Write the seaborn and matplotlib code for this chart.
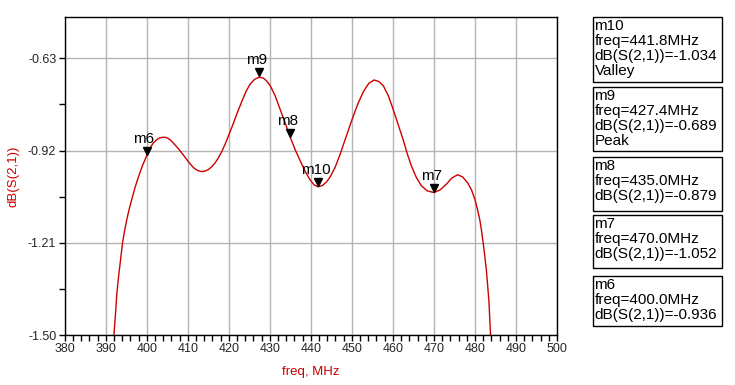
import numpy as np
import matplotlib
matplotlib.use("Agg")
import matplotlib.pyplot as plt
import matplotlib.transforms as mtransforms
from matplotlib.patches import Rectangle
import seaborn as sns

# curve (freq in MHz, dB(S(2,1)))
freq = [391.8, 392.0, 392.4, 392.7, 393.1, 393.5, 394.1, 394.6, 395.1, 395.7,
        396.3, 397.1, 398.0, 399.0, 400.0, 400.8, 401.6, 402.4, 403.2, 404.0,
        404.8, 405.7, 406.6, 407.7, 408.8, 409.8, 410.6, 411.4, 412.3, 413.2,
        414.1, 415.0, 415.9, 416.7, 417.5, 418.3, 419.2, 420.1, 421.1, 422.1,
        423.2, 424.2, 425.2, 426.3, 427.4, 428.4, 429.3, 430.1, 431.3, 432.5,
        433.8, 435.0, 436.2, 437.4, 438.6, 439.8, 440.8, 441.8, 442.8, 443.8,
        444.7, 445.9, 447.1, 448.5, 450.0, 451.4, 452.8, 454.1, 455.4, 456.6,
        457.7, 458.9, 460.0, 461.2, 462.5, 463.5, 464.5, 465.7, 466.9, 468.4,
        470.0, 471.5, 473.0, 474.4, 475.8, 477.0, 478.3, 479.2, 480.0, 480.6,
        481.2, 481.6, 482.0, 482.4, 482.8, 483.1, 483.4, 483.6, 483.8, 484.0]
s21_db = [-1.56, -1.50, -1.43, -1.371, -1.32, -1.276, -1.21, -1.172, -1.139, -1.105,
          -1.076, -1.038, -1.002, -0.966, -0.936, -0.912, -0.896, -0.886, -0.880, -0.878,
          -0.879, -0.886, -0.898, -0.914, -0.932, -0.949, -0.962, -0.974, -0.982, -0.986,
          -0.985, -0.980, -0.970, -0.958, -0.942, -0.923, -0.897, -0.868, -0.835, -0.800,
          -0.765, -0.734, -0.711, -0.696, -0.689, -0.692, -0.702, -0.716, -0.748, -0.790,
          -0.835, -0.879, -0.918, -0.952, -0.985, -1.012, -1.028, -1.034, -1.030, -1.019,
          -1.003, -0.973, -0.933, -0.880, -0.824, -0.775, -0.735, -0.709, -0.698, -0.703,
          -0.717, -0.748, -0.788, -0.835, -0.886, -0.930, -0.968, -1.004, -1.030, -1.047,
          -1.052, -1.044, -1.026, -1.006, -0.996, -1.003, -1.023, -1.045, -1.074, -1.104,
          -1.139, -1.172, -1.21, -1.252, -1.298, -1.345, -1.393, -1.445, -1.50, -1.56]

# markers
mk_names = ["m10", "m9", "m8", "m7", "m6"]
mk_freq = [441.8, 427.4, 435.0, 470.0, 400.0]
mk_val = [-1.034, -0.689, -0.879, -1.052, -0.936]
mk_note = ["Valley", "Peak", "", "", ""]

x_ticks = list(range(380, 501, 10))
y_ticks = [-1.50, -1.21, -0.92, -0.63]

sns.set_style("white")
plt.rcParams['font.family'] = ['Liberation Sans', 'DejaVu Sans']

W, H = 735, 385
fig = plt.figure(figsize=(W / 100, H / 100), dpi=100)
ax = fig.add_axes([64.7 / W, 1 - 335 / H, (557 - 64.7) / W, (335 - 17) / H])

sns.lineplot(x=freq, y=s21_db, ax=ax, color="#cc0000", linewidth=1.0, sort=False)

ax.set_xlim(380, 500)
ax.set_ylim(-1.50, -0.50)
ax.set_xticks(x_ticks)
ax.set_xticks(np.arange(380, 501, 2), minor=True)
ax.set_yticks(y_ticks)
ax.set_yticks([-1.355, -1.065, -0.775], minor=True)
ax.set_yticklabels([f"{v:.2f}" for v in y_ticks])
ax.grid(True, which="major", color="#b4b4b4", linewidth=1.0)
ax.set_axisbelow(True)
ax.tick_params(axis="both", which="both", direction="out", length=4, width=1,
               color="black", labelsize=9, pad=2, bottom=True, left=True)
for sp in ax.spines.values():
    sp.set_color("black")
    sp.set_linewidth(1.0)

ax.set_xlabel("freq, MHz", color="#cc0000", fontsize=9.5, labelpad=8)
ax.set_ylabel("dB(S(2,1))", color="#cc0000", fontsize=9.5, labelpad=6)

# marker triangles, tip on the curve
up = mtransforms.offset_copy(ax.transData, fig=fig, x=0, y=3.5, units="points")
for name, f, v in zip(mk_names, mk_freq, mk_val):
    ax.plot([f], [v], marker="v", color="black", markersize=6, transform=up,
            clip_on=False)
    ax.annotate(name, (f, v), xytext=(-2, 7), textcoords="offset points",
                ha="center", va="bottom", fontsize=11, color="black")

# readout boxes on the right
box_tops = [17, 87, 157, 215, 276]
box_bots = [82, 151, 211, 268, 326]
for name, f, v, note, t, b in zip(mk_names, mk_freq, mk_val, mk_note, box_tops, box_bots):
    fig.add_artist(Rectangle((593 / W, 1 - b / H), (722 - 593) / W, (b - t) / H,
                             transform=fig.transFigure, fill=False,
                             edgecolor="black", linewidth=1.0))
    lines = [name, f"freq={f:.1f}MHz", f"dB(S(2,1))={v:.3f}"]
    if note:
        lines.append(note)
    for i, line in enumerate(lines):
        fig.text(594.5 / W, 1 - (t + 2 + i * 15.0) / H, line, ha="left", va="top",
                 fontsize=11, color="black")

fig.savefig("out.png", dpi=100)
